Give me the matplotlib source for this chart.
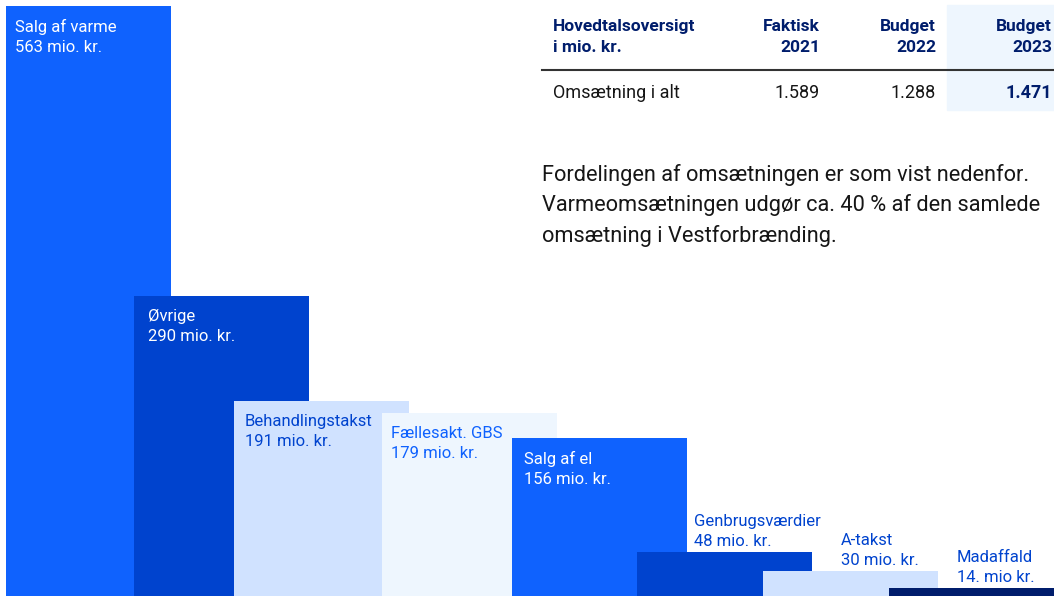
import matplotlib.pyplot as plt

plt.rcParams['font.family'] = ['Roboto', 'DejaVu Sans']

# Revenue split, mio. kr.
names = ["Salg af varme", "Øvrige", "Behandlingstakst", "Fællesakt. GBS",
         "Salg af el", "Genbrugsværdier", "A-takst", "Madaffald"]
values = [563, 290, 191, 179, 156, 48, 30, 14]
value_labels = ["563 mio. kr.", "290 mio. kr.", "191 mio. kr.", "179 mio. kr.",
                "156 mio. kr.", "48 mio. kr.", "30 mio. kr.", "14. mio kr."]

# Summary table
table_cols = ["Faktisk\n2021", "Budget\n2022", "Budget\n2023"]
table_row = "Omsætning i alt"
table_vals = ["1.589", "1.288", "1.471"]

# layout (pixel units on the x axis)
lefts = [6, 134, 234, 382, 512, 637, 763, 889]
widths = [165, 175, 175, 175, 175, 175, 175, 175]
colors = ["#0F62FE", "#0043CE", "#D0E2FF", "#EEF6FE",
          "#0F62FE", "#0043CE", "#D0E2FF", "#001D6C"]
text_colors = ["white", "white", "#0043CE", "#0F62FE",
               "white", "#0043CE", "#0043CE", "#0043CE"]
inside = [True, True, True, True, True, False, False, False]
label_dx = [9, 14, 11, 9, 12, 57, 78, 68]

W, H = 1054, 596
fig = plt.figure(figsize=(W / 100, H / 100), dpi=100)
ax = fig.add_axes([0, 0, 1, 1])
ax.set_xlim(0, W)
ax.set_ylim(6.6, 568.9)
ax.axis("off")

ax.bar(lefts, values, width=widths, align="edge", color=colors, linewidth=0)

k = 72 / 100  # px -> points
for i in range(len(values)):
    txt = names[i] + "\n" + value_labels[i]
    if inside[i]:
        ax.annotate(txt, xy=(lefts[i], values[i]),
                    xytext=(label_dx[i] * k, -13 * k), textcoords="offset points",
                    va="top", ha="left", fontsize=12, color=text_colors[i],
                    linespacing=1.42)
    else:
        ax.annotate(txt, xy=(lefts[i], values[i]),
                    xytext=(label_dx[i] * k, 3 * k), textcoords="offset points",
                    va="bottom", ha="left", fontsize=12, color=text_colors[i],
                    linespacing=1.42)


def fx(px):
    return px / W


def fy(py):
    return 1 - py / H


# table
navy = "#001D6C"
fig.patches.append(plt.Rectangle((fx(947), fy(110)), fx(1054) - fx(947), fy(5) - fy(110),
                                 transform=fig.transFigure, color="#EEF6FE", zorder=0))
fig.text(fx(553), fy(37), "Hovedtalsoversigt\ni mio. kr.", ha="left", va="center",
         fontsize=12.5, fontweight="bold", color=navy, linespacing=1.5)
col_x = [820, 936, 1052]
for x, c in zip(col_x, table_cols):
    fig.text(fx(x), fy(37), c, ha="right", va="center", fontsize=12.5,
             fontweight="bold", color=navy, linespacing=1.5)
fig.add_artist(plt.Line2D([fx(542), fx(1054)], [fy(70), fy(70)],
                          transform=fig.transFigure, color="#333333", linewidth=1.5))
fig.text(fx(553), fy(93), table_row, ha="left", va="center", fontsize=13, color="#161616")
for j, (x, v) in enumerate(zip(col_x, table_vals)):
    last = j == len(table_vals) - 1
    fig.text(fx(x), fy(93), v, ha="right", va="center", fontsize=13,
             color=navy if last else "#161616",
             fontweight="bold" if last else "normal")

fig.text(fx(542), fy(164),
         "Fordelingen af omsætningen er som vist nedenfor.\n"
         "Varmeomsætningen udgør ca. 40 % af den samlede\n"
         "omsætning i Vestforbrænding.",
         ha="left", va="top", fontsize=15.7, color="#161616", linespacing=1.5)

fig.savefig("out.png", dpi=100)
